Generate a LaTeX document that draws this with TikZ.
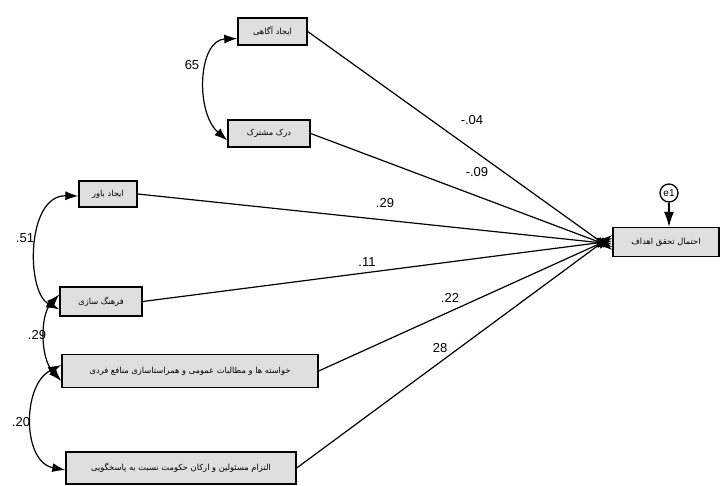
\documentclass[tikz,border=0pt]{standalone}
\usepackage{fontspec}
\setmainfont{Liberation Sans}
\newfontfamily\arabicfont[Script=Arabic]{DejaVu Sans}
\TeXXeTstate=1
\usetikzlibrary{arrows.meta}
\begin{document}
\begin{tikzpicture}[x=1pt,y=-1pt,
 box/.style={draw, line width=1.4pt, fill=gray!25, inner sep=0pt, font=\arabicfont\fontsize{8.3}{9}\selectfont},
 lbl/.style={font=\fontsize{13}{14}\selectfont, inner sep=0pt},
 pth/.style={line width=1.2pt, -{Latex[length=15pt,width=10pt]}},
 cov/.style={line width=1.2pt, {Latex[length=13pt,width=9pt]}-{Latex[length=13pt,width=9pt]}}]
\useasboundingbox (0,0) rectangle (721,486);
\fill[white] (0,0) rectangle (721,486);

\node[box, minimum width=69pt, minimum height=27pt] (b1) at (272.5,31.5) {\beginR ایجاد آگاهی\endR};
\node[box, minimum width=82pt, minimum height=27pt] (b2) at (269,133.5) {\beginR درک مشترک\endR};
\node[box, minimum width=58pt, minimum height=26pt] (b3) at (108,194) {\beginR ایجاد باور\endR};
\node[box, minimum width=82pt, minimum height=29pt] (b4) at (101,301.5) {\beginR فرهنگ سازی\endR};
\node[box, minimum width=256pt, minimum height=33pt] (b5) at (190,371) {\beginR خواسته ها و مطالبات عمومی و همراستاسازی منافع فردی\endR};
\node[box, minimum width=230pt, minimum height=32pt] (b6) at (181,468) {\beginR التزام مسئولین و ارکان حکومت نسبت به پاسخگویی\endR};
\node[box, minimum width=106pt, minimum height=29pt] (t) at (666,242) {\beginR احتمال تحقق اهداف\endR};
\node[draw, circle, line width=1.3pt, fill=white, minimum size=18pt, inner sep=0pt, font=\fontsize{10}{11}\selectfont] (e) at (669,193) {e1};

\draw[pth] (e) -- (t.north -| e);

\draw[pth] (b1.east) -- ([yshift=-8]t.west);
\draw[pth] (b2.east) -- ([yshift=-5]t.west);
\draw[pth] (b3.east) -- ([yshift=-2]t.west);
\draw[pth] (b4.east) -- ([yshift=1]t.west);
\draw[pth] (b5.east) -- ([yshift=4]t.west);
\draw[pth] (b6.east) -- ([yshift=7]t.west);

\draw[cov] ([yshift=-7]b1.west) .. controls (198,40) and (195,112) .. ([yshift=-7]b2.west);
\draw[cov] ([yshift=-2]b3.west) .. controls (26,195) and (26,292) .. ([yshift=-8]b4.west);
\draw[cov] ([yshift=7]b4.west) .. controls (40,315) and (40,358) .. ([yshift=-10]b5.west);
\draw[cov] ([yshift=6]b5.west) .. controls (22,385) and (22,462) .. ([yshift=-2]b6.west);

\node[lbl] (l1) at (192,65) {65};
\node[lbl] (l2) at (25,238) {.51};
\node[lbl] (l3) at (37,335) {.29};
\node[lbl] (l4) at (21,422) {.20};
\node[lbl] (l5) at (472,120) {-.04};
\node[lbl] (l6) at (477,172) {-.09};
\node[lbl] (l7) at (385,203) {.29};
\node[lbl] (l8) at (367,262) {.11};
\node[lbl] (l9) at (450,298) {.22};
\node[lbl] (l10) at (440,348) {28};
\end{tikzpicture}
\end{document}
